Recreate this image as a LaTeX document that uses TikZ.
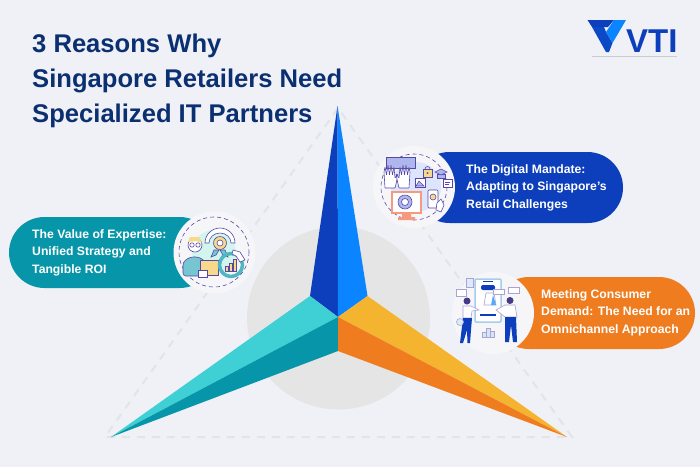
\documentclass[tikz,border=0pt]{standalone}
\usepackage{fontspec}
\setmainfont{Liberation Sans}
\definecolor{paper}{HTML}{F0F1F6}
\definecolor{disc}{HTML}{E5E5E6}
\definecolor{guide}{HTML}{E3E4E7}
\definecolor{navy}{HTML}{0B3072}
\definecolor{royal}{HTML}{0D3FBC}
\definecolor{sky}{HTML}{0A84FF}
\definecolor{aqua}{HTML}{3FD0D5}
\definecolor{teal}{HTML}{0796A9}
\definecolor{amber}{HTML}{F5B430}
\definecolor{tangerine}{HTML}{EF7D20}
\definecolor{badge}{HTML}{F6F6F8}
\definecolor{ink}{HTML}{5548A8}
\definecolor{lilac}{HTML}{AEB6EE}
\definecolor{salmon}{HTML}{F59A7E}
\definecolor{butter}{HTML}{F8D98A}
\definecolor{mint}{HTML}{D2F5EE}
\definecolor{haze}{HTML}{DCE5FB}
\definecolor{pane}{HTML}{A6CDEE}
\begin{document}
\begin{tikzpicture}[
        x=1pt, y=-1pt,
        headline/.style={anchor=base west, inner sep=0pt, font=\fontsize{25.6}{30}\selectfont\bfseries, text=navy},
        pilltext/.style={anchor=west, inner sep=0pt, align=left, text=white, font=\fontsize{12.2}{17.6}\selectfont\bfseries},
        guideline/.style={guide, line width=2pt, dash pattern=on 8pt off 7pt},
        icon/.style={draw=ink, line width=0.6pt},
        soft/.style={draw=ink!50, line width=0.6pt},
        ring/.style={ink, line width=0.6pt, dash pattern=on 4pt off 3pt}
    ]
        \useasboundingbox (0,0) rectangle (700,467);
        \fill[paper] (0,0) rectangle (700,467);
        \fill[disc] (338.5,318) circle (91.5);

        % Star points
        \coordinate (apex) at (337.5,106);
        \coordinate (tipleft) at (111,437);
        \coordinate (tipright) at (567,437);
        \coordinate (hub) at (338,317);
        \coordinate (foot) at (338,351);
        \coordinate (shoulderleft) at (310,296);
        \coordinate (shoulderright) at (367.5,296);
        \coordinate (guidetop) at (338,108);
        \coordinate (guideleft) at (105,437);
        \coordinate (guideright) at (572,437);
        \draw[guideline] (guidetop) -- (guideleft) -- (guideright) -- cycle;
        \foreach \shade/\p/\q/\r in {royal/apex/shoulderleft/hub,sky/apex/shoulderright/hub,
            aqua/tipleft/shoulderleft/hub,teal/tipleft/foot/hub,
            amber/tipright/shoulderright/hub,tangerine/tipright/foot/hub}
        {
            \fill[\shade] (\p) -- (\q) -- (\r) -- cycle;
        }

        % Pills with their round badges
        \fill[royal, rounded corners=35.5] (414,152) rectangle (623,223);
        \fill[teal, rounded corners=35.5] (9,217) rectangle (215,288);
        \fill[tangerine, rounded corners=36] (493,277) rectangle (695,349);
        \foreach \cx/\cy in {414/187,214.5/252.5,493/313}
        {
            \fill[badge] (\cx,\cy) circle (41);
        }

        % Digital icon
        \fill[haze] (416,187) circle (25);
        \draw[ring] (414,187) circle (33);
        \fill[lilac, icon] (386,157) rectangle (415,168);
        \foreach \hx/\side in {390/1,404/-1}
        {
            \draw[icon, fill=white, rounded corners=0.5, shift={(\hx,0)}, xscale=\side] (-5,188) -- (-6,172) -- (-5,167) -- (-3.5,175)
                -- (-2,165) -- (-0.5,175) -- (1,165) -- (2.5,175) -- (4,167) -- (5,178) -- (8,174) -- (6,184) -- (5,188) -- cycle;
        }
        \draw[icon, draw=salmon, fill=white, line width=1.2pt] (392,192) rectangle (421,213);
        \fill[salmon] (402,213) rectangle (411,217) (398,217) rectangle (415,220);
        \draw[icon, fill=lilac] (405,202) circle (7);
        \draw[icon, fill=white] (405,202) circle (3.5);
        \draw[icon, fill=butter] (423,169) rectangle (432,177);
        \draw[icon] (425,169) arc (180:360:2.5);
        \fill[ink] (427.5,173) circle (1);
        \draw[icon, fill=lilac] (437,174) rectangle (445,178);
        \draw[icon, fill=lilac] (435,172) -- (441,169) -- (447,172) -- (441,175) -- cycle;
        \draw[icon, fill=white] (415,178) rectangle (425,187);
        \draw[icon, fill=lilac] (416,186) -- (419,181) -- (424,186) -- cycle;
        \draw[icon, fill=white] (443,179) rectangle (452,187);
        \draw[icon] (445,182) -- (450,182) (445,184.5) -- (449,184.5);
        \draw[icon, fill=white, rounded corners=1] (428,190) rectangle (438,208);
        \draw[icon, fill=butter] (433,197) circle (3);
        \draw[icon, fill=white] (437,203) -- (441,199) -- (444,205) -- (441,212) -- (436,210) -- cycle;

        % Expertise icon
        \fill[mint] (214,252) circle (22);
        \draw[ring] (214,252) circle (35);
        \draw[icon, fill=white] (205,243) arc (180:360:15 and 15) -- (231,243) arc (360:180:11 and 10) -- cycle;
        \draw[icon, fill=teal!55] (214,250) -- (211,257) -- (216,255) -- (219,250) -- cycle;
        \draw[icon, fill=teal!55] (225,250) -- (228,257) -- (223,255) -- (220,250) -- cycle;
        \draw[icon, fill=butter] (220,243) circle (6.5);
        \draw[icon, fill=white] (220,243) circle (3);
        \draw[icon, fill=teal!55, rounded corners=3] (183,276) -- (183,262) -- (190,257) -- (199,257) -- (206,262) -- (206,276) -- cycle;
        \draw[icon, fill=white] (195,245) circle (7);
        \fill[butter] (188,242) -- (190,237) -- (199,237) -- (202,243) -- (196,241) -- cycle;
        \draw[icon] (192,245) circle (2.2) (198,245) circle (2.2);
        \draw[icon, fill=butter] (200,260) rectangle (218,275);
        \draw[icon, fill=white] (198,270) rectangle (207,277);
        \draw[teal!70, line width=3.5pt] (231,265) circle (11.5);
        \foreach \bx/\btop in {225/266,229/263,233/259}
        {
            \draw[icon, fill=butter] (\bx,\btop) rectangle (\bx+3,271);
        }
        \draw[icon, fill=white] (233,250) -- (240,252) -- (245,260) -- (240,262) -- (236,256) -- (232,254) -- cycle;

        % Omnichannel icon
        \draw[icon, draw=pane, fill=white, rounded corners=1, line width=1.5pt] (475,279) rectangle (501,322);
        \fill[royal, rounded corners=2] (481,285) rectangle (495,290);
        \fill[royal] (483,280.5) rectangle (493,282);
        \draw[soft, fill=white] (484,305) -- (486,293) -- (494,293) -- (496,305) -- cycle;
        \fill[sky!70] (491,305) -- (493,295) -- (496,305) -- cycle;
        \fill[royal] (480,314) rectangle (496,315.5);
        \draw[soft, fill=white] (493,289) rectangle (504,294);
        \draw[soft, fill=white] (456,289) rectangle (466,296);
        \draw[soft, fill=white] (508,287) rectangle (519,293);
        \draw[soft, fill=pane!40] (466,278) rectangle (473,287);
        \foreach \bx/\btop in {482/332,486/328,490/331}
        {
            \draw[soft, fill=pane!50] (\bx,\btop) rectangle (\bx+4,337);
        }
        % two people
        \fill[ink!80!black] (467,301) circle (3.5);
        \draw[soft, fill=white] (463,306) -- (471,306) -- (479,310) -- (472,311) -- (471,318) -- (463,318) -- cycle;
        \fill[royal] (463,318) -- (472,318) -- (471,330) -- (470,343) -- (467.5,343) -- (467,330) -- (463,343) -- (460,343) -- cycle;
        \draw[soft, fill=pane!40] (460,322) circle (3.5);
        \fill[ink!80!black] (510,300.5) circle (3.5);
        \draw[soft, fill=white] (505,305) -- (515,305) -- (517,317) -- (505,317) -- (496,310) -- cycle;
        \fill[royal] (505,317) -- (516,317) -- (517,342) -- (513,342) -- (511,325) -- (509,342) -- (505,342) -- cycle;

        % Pill labels
        \node[pilltext] (digital) at (466,187.5) {The Digital Mandate:\\Adapting to Singapore\symbol{39}s\\Retail Challenges};
        \node[pilltext] (expertise) at (32,252.5) {The Value of Expertise:\\Unified Strategy and\\Tangible ROI};
        \node[pilltext] (demand) at (541,312.5) {Meeting Consumer\\Demand: The Need for an\\Omnichannel Approach};

        % Heading
        \foreach \y/\line in {52/3 Reasons Why,87/Singapore Retailers Need,122/Specialized IT Partners}
        {
            \node[headline] at (32,\y) {\line};
        }

        % Logo
        \fill[royal] (587.5,20) -- (614,20) -- (608,27) -- (592,27) -- cycle;
        \fill[royal!85!sky] (592,27) -- (604,27) -- (606,32) -- (612.5,43) -- (609,52) -- (606,52) -- cycle;
        \fill[sky] (614,20) -- (626,20) -- (612.5,43) -- (606,32) -- cycle;
        \node[anchor=base west, inner sep=0pt, text=royal, font=\fontsize{33}{33}\selectfont\bfseries] (brand) at (626,52) {VTI};
        \draw[gray!40, line width=0.5pt, dash pattern=on 1.5pt off 0.5pt] (592,56) -- (677,56);
    \end{tikzpicture}
\end{document}
